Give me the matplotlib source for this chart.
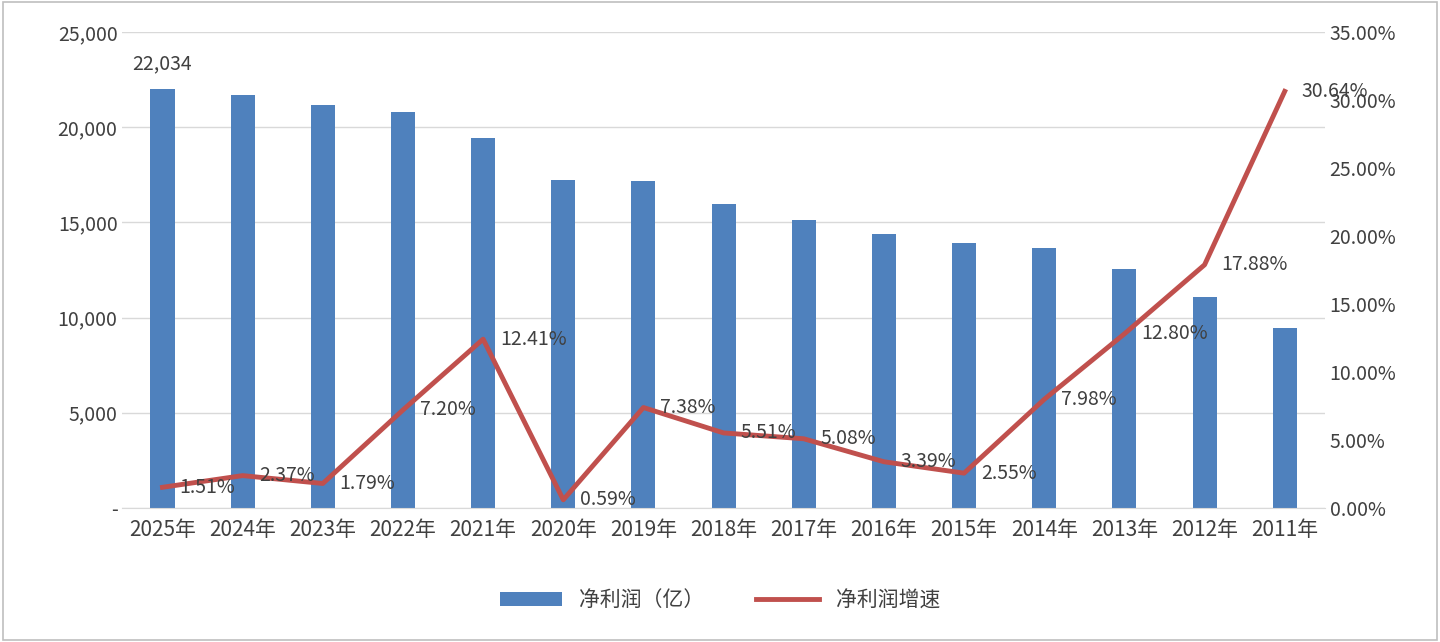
import numpy as np
import matplotlib.pyplot as plt
from matplotlib.ticker import FuncFormatter

plt.rcParams['font.family'] = ['Noto Sans CJK SC', 'DejaVu Sans']

years = ['2025年', '2024年', '2023年', '2022年', '2021年', '2020年', '2019年', '2018年',
         '2017年', '2016年', '2015年', '2014年', '2013年', '2012年', '2011年']
profit = [22034, 21700, 21150, 20800, 19450, 17250, 17150, 15950,
          15100, 14400, 13900, 13650, 12550, 11100, 9450]
growth = [1.51, 2.37, 1.79, 7.20, 12.41, 0.59, 7.38, 5.51,
          5.08, 3.39, 2.55, 7.98, 12.80, 17.88, 30.64]

txt = '#404040'
fig = plt.figure(figsize=(14.4, 6.42), dpi=100)
fig.patches.append(plt.Rectangle((0.002, 0.003), 0.996, 0.994, transform=fig.transFigure,
                                 fill=False, edgecolor='#bfbfbf', linewidth=1.2))
ax = fig.add_axes([0.085, 0.209, 0.835, 0.741])
x = np.arange(len(years))
bars = ax.bar(x, profit, width=0.3, color='#4F81BD', label='净利润（亿）', zorder=2)
ax.set_ylim(0, 25000)
ax.set_xlim(-0.5, len(years) - 0.5)
ax.set_yticks(range(0, 25001, 5000))
ax.yaxis.set_major_formatter(FuncFormatter(lambda v, p: '-' if v == 0 else f'{int(v):,}'))
ax.set_xticks(x)
ax.set_xticklabels(years)
ax.grid(axis='y', color='#d9d9d9', linewidth=1, zorder=0)
for s in ['top', 'left', 'right']:
    ax.spines[s].set_visible(False)
ax.spines['bottom'].set_color('#d9d9d9')
ax.tick_params(length=0, labelsize=14, colors=txt)
ax.tick_params(axis='x', labelsize=15, pad=8)
ax.annotate(f'{profit[0]:,}', (x[0], profit[0]), xytext=(0, 10), textcoords='offset points',
            ha='center', va='bottom', fontsize=14, color=txt)

ax2 = ax.twinx()
line, = ax2.plot(x, growth, color='#C0504D', linewidth=3.5, label='净利润增速', zorder=3)
ax2.set_ylim(0, 35)
ax2.set_yticks(range(0, 36, 5))
ax2.yaxis.set_major_formatter(FuncFormatter(lambda v, p: f'{v:.2f}%'))
for s in ['top', 'left', 'right', 'bottom']:
    ax2.spines[s].set_visible(False)
ax2.tick_params(length=0, labelsize=14, colors=txt)
for xi, g in zip(x, growth):
    ax2.annotate(f'{g:.2f}%', (xi, g), xytext=(12, 0), textcoords='offset points',
                 ha='left', va='center', fontsize=14, color=txt)

fig.legend([bars, line], ['净利润（亿）', '净利润增速'], loc='center', bbox_to_anchor=(0.5, 0.065),
           ncol=2, frameon=False, fontsize=15, labelcolor=txt, handlelength=3, columnspacing=2.5)
fig.savefig('out.png', dpi=100)
